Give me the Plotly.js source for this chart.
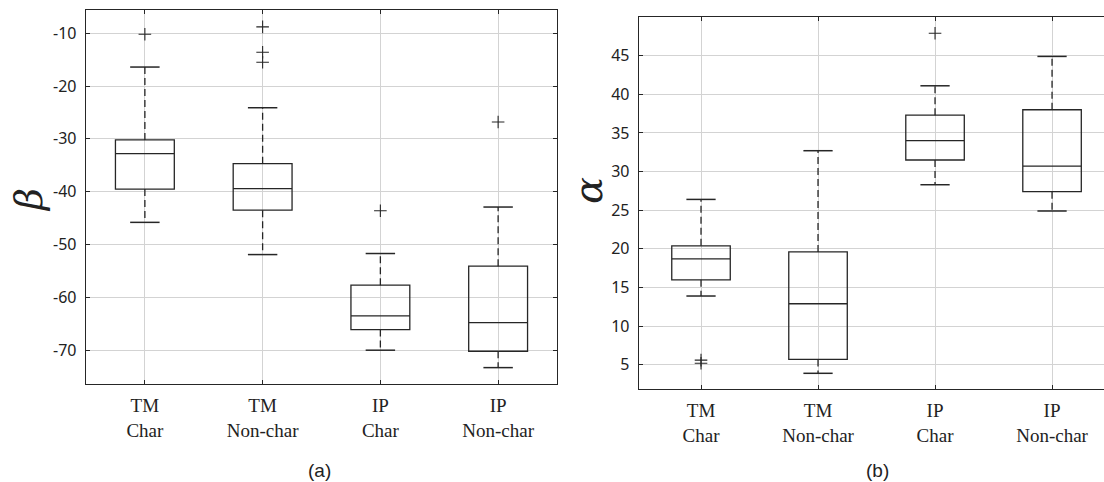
<!DOCTYPE html>
<html>
<head>
<meta charset="utf-8">
<script src="https://cdn.plot.ly/plotly-3.0.1.min.js"></script>
<style>
  html, body { margin: 0; padding: 0; background: #ffffff; }
  #chart { width: 1104px; height: 482px; }
</style>
</head>
<body>
<div id="chart"></div>
<script>
// ---- Data ----
const categoryTop = ['TM', 'TM', 'IP', 'IP'];
const categoryBottom = ['Char', 'Non-char', 'Char', 'Non-char'];
const categoryPos = [0, 1, 2, 3];

// (a) beta
const betaLower  = [-45.8, -51.9, -70.0, -73.3];
const betaQ1     = [-39.5, -43.5, -66.1, -70.2];
const betaMedian = [-32.8, -39.4, -63.5, -64.8];
const betaQ3     = [-30.2, -34.7, -57.7, -54.1];
const betaUpper  = [-16.4, -24.1, -51.7, -42.9];
const betaOutlierCat = [0, 1, 1, 1, 2, 3];
const betaOutlierVal = [-10.2, -8.8, -13.6, -15.5, -43.6, -26.8];
const betaTicks = [-70, -60, -50, -40, -30, -20, -10];

// (b) alpha
const alphaLower  = [13.9, 3.9, 28.3, 24.9];
const alphaQ1     = [16.0, 5.7, 31.5, 27.4];
const alphaMedian = [18.7, 12.9, 34.0, 30.7];
const alphaQ3     = [20.4, 19.6, 37.3, 38.0];
const alphaUpper  = [26.4, 32.7, 41.1, 44.9];
const alphaOutlierCat = [0, 0, 2];
const alphaOutlierVal = [5.6, 5.2, 47.9];
const alphaTicks = [5, 10, 15, 20, 25, 30, 35, 40, 45];

// ---- Styling ----
const W = 1104, H = 482;
const INK = '#262626';
const BOX_W = 0.5, CAP_HALF = 0.125;
const px = v => v / W;
const py = v => 1 - v / H;

function panelTraces(lower, q1, med, q3, upper, outCat, outVal, xa, ya) {
  const box = {
    type: 'box', x: categoryPos, q1: q1, median: med, q3: q3,
    lowerfence: q1, upperfence: q3,
    width: BOX_W, whiskerwidth: 0, boxpoints: false,
    fillcolor: 'rgba(255,255,255,0)',
    line: { color: INK, width: 1.3 },
    xaxis: xa, yaxis: ya, showlegend: false, hoverinfo: 'skip'
  };
  const wx = [], wy = [], cx = [], cy = [];
  categoryPos.forEach((c, i) => {
    wx.push(c, c, null, c, c, null);
    wy.push(q3[i], upper[i], null, q1[i], lower[i], null);
    cx.push(c - CAP_HALF, c + CAP_HALF, null, c - CAP_HALF, c + CAP_HALF, null);
    cy.push(upper[i], upper[i], null, lower[i], lower[i], null);
  });
  const whisk = {
    type: 'scatter', mode: 'lines', x: wx, y: wy,
    line: { color: INK, width: 1.3, dash: '7px,4px' },
    xaxis: xa, yaxis: ya, showlegend: false, hoverinfo: 'skip'
  };
  const caps = {
    type: 'scatter', mode: 'lines', x: cx, y: cy,
    line: { color: INK, width: 1.5 },
    xaxis: xa, yaxis: ya, showlegend: false, hoverinfo: 'skip'
  };
  const outl = {
    type: 'scatter', mode: 'markers',
    x: outCat.map(i => categoryPos[i]), y: outVal,
    marker: { symbol: 'cross-thin', size: 9, line: { color: INK, width: 1.1 } },
    xaxis: xa, yaxis: ya, showlegend: false, hoverinfo: 'skip'
  };
  return [box, whisk, caps, outl];
}

const data = [].concat(
  panelTraces(betaLower, betaQ1, betaMedian, betaQ3, betaUpper, betaOutlierCat, betaOutlierVal, 'x', 'y'),
  panelTraces(alphaLower, alphaQ1, alphaMedian, alphaQ3, alphaUpper, alphaOutlierCat, alphaOutlierVal, 'x2', 'y2')
);

const tickText = categoryTop.map((t, i) => t + '<br>' + categoryBottom[i]);
const xCommon = {
  tickmode: 'array', tickvals: categoryPos, ticktext: tickText,
  tickfont: { family: 'Liberation Serif, Times New Roman, serif', size: 19, color: '#222' },
  showgrid: true, gridcolor: '#d3d3d3', gridwidth: 1,
  zeroline: false, showline: true, linecolor: INK, linewidth: 1.3,
  ticks: 'inside', ticklen: 4, tickcolor: INK, ticklabelstandoff: 4
};
const yCommon = {
  tickmode: 'array',
  tickfont: { family: 'Noto Sans, DejaVu Sans, sans-serif', size: 16, color: '#222' },
  showgrid: true, gridcolor: '#d3d3d3', gridwidth: 1,
  zeroline: false, showline: true, linecolor: INK, linewidth: 1.3,
  ticks: 'inside', ticklen: 4, tickcolor: INK, ticklabelstandoff: 5
};

const layout = {
  width: W, height: H,
  margin: { l: 0, r: 0, t: 0, b: 0 },
  paper_bgcolor: '#ffffff', plot_bgcolor: '#ffffff',
  showlegend: false,
  xaxis: Object.assign({}, xCommon, {
    domain: [px(86), px(557)], range: [-0.5, 3.5], mirror: 'ticks', anchor: 'y'
  }),
  yaxis: Object.assign({}, yCommon, {
    domain: [py(384), py(10)], range: [-76.4, -5.6],
    tickvals: betaTicks, ticktext: betaTicks.map(v => String(v)),
    mirror: 'ticks', anchor: 'x'
  }),
  xaxis2: Object.assign({}, xCommon, {
    domain: [px(639), 1], range: [-0.53, 3.444], mirror: 'ticks', anchor: 'y2'
  }),
  yaxis2: Object.assign({}, yCommon, {
    domain: [py(389), py(17)], range: [1.87, 50.0],
    tickvals: alphaTicks, ticktext: alphaTicks.map(v => String(v)),
    mirror: false, anchor: 'x2'
  }),
  annotations: [
    { text: '<i>β</i>', xref: 'paper', yref: 'paper', x: px(29), y: py(200),
      xanchor: 'center', yanchor: 'middle', showarrow: false, textangle: -90,
      font: { family: 'DejaVu Serif, serif', size: 38, color: '#222' } },
    { text: '<i>α</i>', xref: 'paper', yref: 'paper', x: px(588), y: py(191),
      xanchor: 'center', yanchor: 'middle', showarrow: false, textangle: -90,
      font: { family: 'DejaVu Serif, serif', size: 40, color: '#222' } },
    { text: '(a)', xref: 'paper', yref: 'paper', x: px(319), y: py(470),
      xanchor: 'center', yanchor: 'middle', showarrow: false,
      font: { family: 'Liberation Sans, Arial, sans-serif', size: 19, color: '#222' } },
    { text: '(b)', xref: 'paper', yref: 'paper', x: px(877), y: py(470),
      xanchor: 'center', yanchor: 'middle', showarrow: false,
      font: { family: 'Liberation Sans, Arial, sans-serif', size: 19, color: '#222' } }
  ]
};

Plotly.newPlot('chart', data, layout, { staticPlot: true, displayModeBar: false });
</script>
</body>
</html>
